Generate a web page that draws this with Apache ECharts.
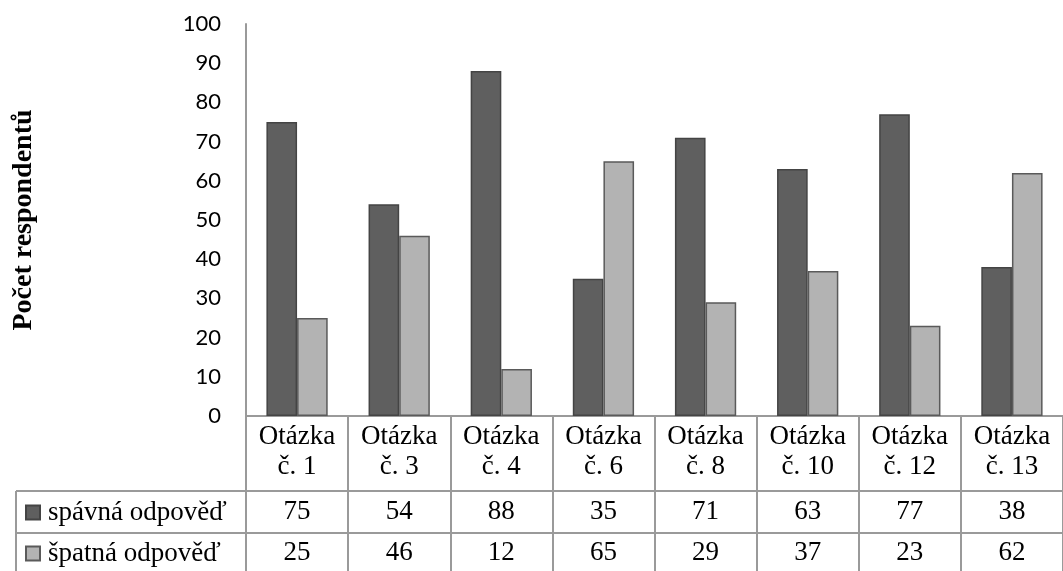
<!DOCTYPE html>
<html>
<head>
<meta charset="utf-8">
<script src="https://cdn.jsdelivr.net/npm/echarts@6/dist/echarts.min.js"></script>
<style>
  html, body { margin: 0; padding: 0; background: #fff; }
  #chart { width: 1063px; height: 571px; }
</style>
</head>
<body>
<div id="chart"></div>
<script>
// Questions and answer counts
const questions = ['Otázka\nč. 1', 'Otázka\nč. 3', 'Otázka\nč. 4', 'Otázka\nč. 6',
                   'Otázka\nč. 8', 'Otázka\nč. 10', 'Otázka\nč. 12', 'Otázka\nč. 13'];
const seriesNames = ['spávná odpověď', 'špatná odpověď'];
const correct = [75, 54, 88, 35, 71, 63, 77, 38];
const wrong = [25, 46, 12, 65, 29, 37, 23, 62];
const yTicks = { min: 0, max: 100, interval: 10 };

const serif = '"Liberation Serif", "DejaVu Serif", serif';
const lineColor = '#9a9a9a';
const tableFont = 27;

const chart = echarts.init(document.getElementById('chart'));

// Category axis plus two extra axes below it forming the data table rows
function tableAxis(data, offset, tickLen, margin, lineHeight) {
  return {
    type: 'category',
    gridIndex: 0,
    position: 'bottom',
    offset: offset,
    data: data,
    axisLine: { show: true, lineStyle: { color: lineColor, width: 2 } },
    axisTick: { show: true, length: tickLen, lineStyle: { color: lineColor, width: 2 } },
    axisLabel: {
      interval: 0, margin: margin, color: '#000',
      fontFamily: serif, fontSize: tableFont, lineHeight: lineHeight
    },
    splitLine: { show: false }
  };
}

function legendRow(name, top) {
  return {
    data: [name], orient: 'vertical', left: 25, top: top, padding: 0,
    icon: 'rect', itemWidth: 14, itemHeight: 14, itemGap: 0,
    textStyle: { fontFamily: serif, fontSize: tableFont, lineHeight: 26, color: '#000', padding: [0, 0, 0, 3] }
  };
}

const option = {
  animation: false,
  backgroundColor: '#fff',
  grid: { left: 246, top: 24, width: 826, height: 392 },
  legend: [legendRow(seriesNames[0], 499), legendRow(seriesNames[1], 540)],
  xAxis: [
    tableAxis(questions, 0, 75, 6, 30),
    tableAxis(correct.map(String), 75, 42, 8, 26),
    tableAxis(wrong.map(String), 117, 60, 7, 26)
  ],
  yAxis: {
    type: 'value',
    min: yTicks.min, max: yTicks.max, interval: yTicks.interval,
    name: 'Počet respondentů',
    nameLocation: 'middle',
    nameGap: 208,
    nameRotate: 90,
    nameTextStyle: { fontFamily: serif, fontWeight: 'bold', fontSize: 28, color: '#000' },
    axisLine: { show: true, lineStyle: { color: lineColor, width: 2 } },
    axisTick: { show: false },
    splitLine: { show: false },
    axisLabel: { margin: 25, color: '#000', fontFamily: 'Lato, "Open Sans", sans-serif', fontSize: 22 }
  },
  series: [
    {
      name: seriesNames[0], type: 'bar', xAxisIndex: 0, data: correct,
      barGap: '0%', barCategoryGap: '40%',
      itemStyle: { color: '#5f5f5f', borderColor: '#444', borderWidth: 1.5 }
    },
    {
      name: seriesNames[1], type: 'bar', xAxisIndex: 0, data: wrong,
      barGap: '0%', barCategoryGap: '40%',
      itemStyle: { color: '#b3b3b3', borderColor: '#5a5a5a', borderWidth: 1.5 }
    }
  ],
  // Left part of the table (legend column borders)
  graphic: [
    { type: 'line', shape: { x1: 16, y1: 491, x2: 246, y2: 491 }, style: { stroke: lineColor, lineWidth: 2 } },
    { type: 'line', shape: { x1: 16, y1: 533, x2: 246, y2: 533 }, style: { stroke: lineColor, lineWidth: 2 } },
    { type: 'line', shape: { x1: 16, y1: 491, x2: 16, y2: 571 }, style: { stroke: lineColor, lineWidth: 2 } }
  ]
};

chart.setOption(option);
</script>
</body>
</html>
